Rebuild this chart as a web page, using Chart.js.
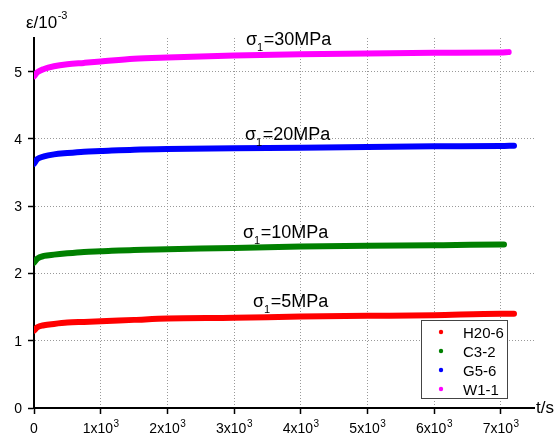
<!DOCTYPE html>
<html>
<head>
<meta charset="utf-8">
<script src="https://cdn.jsdelivr.net/npm/chart.js@4.4.0/dist/chart.umd.min.js"></script>
<style>
  html, body { margin: 0; padding: 0; background: #fff; }
</style>
</head>
<body>
<canvas id="chart" width="557" height="439"></canvas>
<script>
// Creep curves: strain (x10^-3) vs time (s)
const times = [0, 50, 150, 300, 500, 750, 1000, 1500, 2000, 3000, 4000, 5000, 6000, 7000];
const seriesNames = ['H20-6', 'C3-2', 'G5-6', 'W1-1'];
const strainH20 = [1.15, 1.20, 1.23, 1.25, 1.27, 1.28, 1.29, 1.31, 1.33, 1.34, 1.36, 1.37, 1.38, 1.40];
const strainC3 = [2.16, 2.22, 2.26, 2.28, 2.30, 2.32, 2.33, 2.35, 2.36, 2.38, 2.40, 2.41, 2.42, 2.43];
const strainG5 = [3.63, 3.70, 3.74, 3.77, 3.79, 3.81, 3.82, 3.84, 3.85, 3.86, 3.87, 3.88, 3.89, 3.895];
const strainW1 = [4.93, 4.99, 5.04, 5.08, 5.11, 5.13, 5.15, 5.19, 5.21, 5.24, 5.26, 5.27, 5.28, 5.285];
const endTimes = [7200, 7050, 7200, 7120];
const endStrains = [1.40, 2.43, 3.90, 5.29];
const stressLevels = ['5', '10', '20', '30'];
const xTicks = [0, 1000, 2000, 3000, 4000, 5000, 6000, 7000];
const yTicks = [0, 1, 2, 3, 4, 5];

const colors = ['#ff0000', '#008000', '#0000ff', '#ff00ff'];
const allStrains = [strainH20, strainC3, strainG5, strainW1];
// where the stress labels sit (data coords of the sigma glyph baseline)
const labelPos = [[3285, 1.50], [3135, 2.53], [3165, 3.98], [3180, 5.40]];

const FONT = '"Liberation Sans", Arial, sans-serif';

function buildPoints(values, endT, endV) {
  const pts = times.map((t, i) => ({ x: t, y: values[i] }));
  pts.push({ x: endT, y: endV });
  return pts;
}

const datasets = seriesNames.map((name, i) => ({
  label: name,
  data: buildPoints(allStrains[i], endTimes[i], endStrains[i]),
  borderColor: colors[i],
  backgroundColor: colors[i],
  borderWidth: 6,
  borderCapStyle: 'round',
  pointRadius: 0,
  cubicInterpolationMode: 'monotone',
  fill: false
}));

// Text overlay: tick labels with superscripts, axis titles, annotations, legend
const overlay = {
  id: 'overlay',
  afterDraw(chart) {
    const ctx = chart.ctx;
    const xs = chart.scales.x;
    const ys = chart.scales.y;
    ctx.save();
    ctx.fillStyle = '#000';
    ctx.textBaseline = 'alphabetic';

    // y tick labels
    ctx.font = '14px ' + FONT;
    ctx.textAlign = 'right';
    yTicks.forEach(v => ctx.fillText(String(v), xs.left - 12, ys.getPixelForValue(v) + 5));

    // x tick labels
    const base = ys.bottom + 25;
    xTicks.forEach(v => {
      const px = xs.getPixelForValue(v);
      if (v === 0) {
        ctx.font = '14px ' + FONT;
        ctx.textAlign = 'center';
        ctx.fillText('0', px, base);
        return;
      }
      const main = (v / 1000) + 'x10';
      ctx.font = '14px ' + FONT;
      const w1 = ctx.measureText(main).width;
      ctx.font = '10px ' + FONT;
      const w2 = ctx.measureText('3').width;
      const x0 = px - (w1 + w2) / 2;
      ctx.textAlign = 'left';
      ctx.font = '14px ' + FONT;
      ctx.fillText(main, x0, base);
      ctx.font = '10px ' + FONT;
      ctx.fillText('3', x0 + w1 + 0.5, base - 6);
    });

    // axis titles
    ctx.textAlign = 'left';
    ctx.font = '17px ' + FONT;
    const yt = '\u03b5/10';
    ctx.fillText(yt, 26, 28);
    const wyt = ctx.measureText(yt).width;
    ctx.font = '11px ' + FONT;
    ctx.fillText('-3', 26 + wyt + 0.5, 19);
    ctx.font = '17px ' + FONT;
    ctx.fillText('t/s', 536, ys.bottom + 5);

    // stress annotations
    stressLevels.forEach((s, i) => {
      const px = xs.getPixelForValue(labelPos[i][0]);
      const py = ys.getPixelForValue(labelPos[i][1]);
      ctx.font = '18px ' + FONT;
      ctx.fillText('\u03c3', px, py);
      const ws = ctx.measureText('\u03c3').width;
      ctx.font = '11px ' + FONT;
      ctx.fillText('1', px + ws, py + 6);
      const w1 = ctx.measureText('1').width;
      ctx.font = '18px ' + FONT;
      ctx.fillText('=' + s + 'MPa', px + ws + w1 + 0.5, py);
    });

    // legend box
    const lx = 421, ly = 320, lw = 86, lh = 78;
    ctx.fillStyle = '#fff';
    ctx.fillRect(lx, ly, lw, lh);
    ctx.strokeStyle = '#444';
    ctx.lineWidth = 1;
    ctx.strokeRect(lx + 0.5, ly + 0.5, lw, lh);
    ctx.font = '15px ' + FONT;
    seriesNames.forEach((name, i) => {
      const cy = ly + 12 + i * 19;
      ctx.fillStyle = colors[i];
      ctx.beginPath();
      ctx.arc(lx + 20, cy, 2.2, 0, Math.PI * 2);
      ctx.fill();
      ctx.fillStyle = '#000';
      ctx.fillText(name, lx + 42, cy + 5.5);
    });
    ctx.restore();
  }
};

const ctx = document.getElementById('chart').getContext('2d');
new Chart(ctx, {
  type: 'line',
  data: { datasets: datasets },
  plugins: [overlay],
  options: {
    responsive: false,
    animation: false,
    layout: { padding: { left: 28, right: 23, top: 38, bottom: 25 } },
    plugins: {
      legend: { display: false },
      tooltip: { enabled: false }
    },
    scales: {
      x: {
        type: 'linear',
        min: 0,
        max: 7500,
        afterBuildTicks: axis => { axis.ticks = xTicks.map(v => ({ value: v })); },
        ticks: { display: false },
        grid: {
          color: '#999',
          lineWidth: 1,
          tickLength: 6,
          tickColor: '#000',
          tickWidth: 1.5,
          tickBorderDash: []
        },
        border: { display: true, color: '#000', width: 2, dash: [1, 2] }
      },
      y: {
        type: 'linear',
        min: 0,
        max: 5.5,
        afterBuildTicks: axis => { axis.ticks = yTicks.map(v => ({ value: v })); },
        ticks: { display: false },
        grid: {
          color: '#999',
          lineWidth: 1,
          tickLength: 6,
          tickColor: '#000',
          tickWidth: 1.5,
          tickBorderDash: []
        },
        border: { display: true, color: '#000', width: 2, dash: [1, 2] }
      }
    }
  }
});
</script>
</body>
</html>
